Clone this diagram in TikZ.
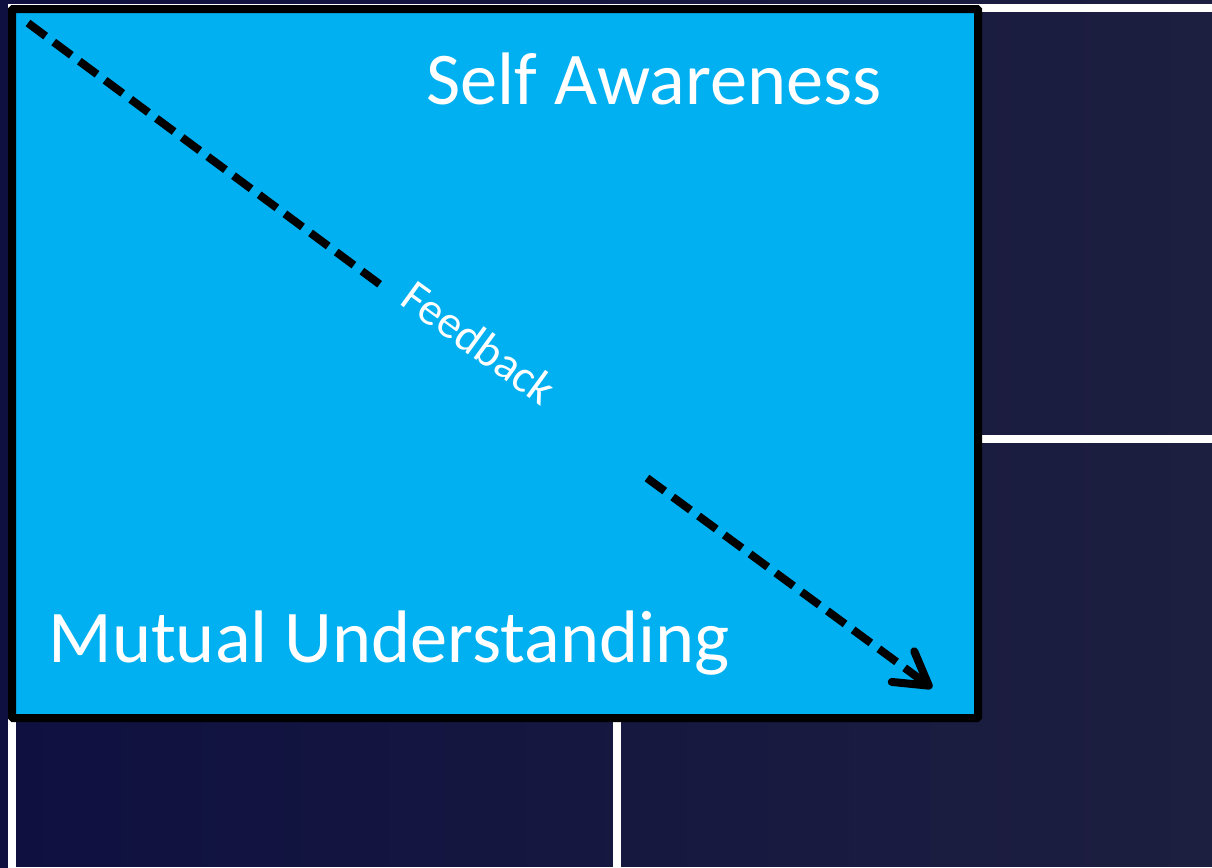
\documentclass[tikz,border=0pt]{standalone}
\usepackage{fontspec}
\setmainfont{Carlito}
\usetikzlibrary{arrows.meta}
\definecolor{navyL}{HTML}{0F1040}
\definecolor{navyR}{HTML}{1D1F40}
\definecolor{skyblue}{HTML}{00B0F0}
\tikzset{
  gridline/.style={white, line width=4pt},
  panel/.style={fill=skyblue, draw=black, line width=4pt, rounded corners=0.5pt},
  bigtext/.style={text=white, inner sep=0pt, anchor=base west, font=\fontsize{37.2}{40}\selectfont},
  fbtext/.style={text=white, inner sep=0pt, anchor=base west, font=\fontsize{23}{25}\selectfont, rotate=-36},
  fbline/.style={black, line width=4pt, dash pattern=on 11pt off 5pt},
}
\begin{document}
\begin{tikzpicture}[x=0.5pt, y=-0.5pt]
  \useasboundingbox (0,0) rectangle (1212,868);
  \clip (0,0) rectangle (1212,868);
  % dark background
  \fill[left color=navyL, right color=navyR] (0,0) rectangle (1212,868);
  % four-pane grid
  \draw[gridline] (12,8) rectangle (1240,871);
  \draw[gridline] (617,8) -- (617,871);
  \draw[gridline] (12,439) -- (1240,439);
  % highlighted pane
  \draw[panel] (12,9) rectangle (978,718);
  % labels
  \node[bigtext] (self) at (426,104) {Self Awareness};
  \node[bigtext] (mutual) at (48,662) {Mutual Understanding};
  \node[fbtext] (fb) at (398,303) {Feedback};
  % feedback arrow
  \coordinate (a1) at (28,23);
  \coordinate (a2) at (382,286);
  \coordinate (b1) at (647,478);
  \coordinate (b2) at (932,688);
  \draw[fbline] (a1) -- (a2);
  \draw[fbline, -{Straight Barb[length=16pt, width=19pt, round]}] (b1) -- (b2);
\end{tikzpicture}
\end{document}
